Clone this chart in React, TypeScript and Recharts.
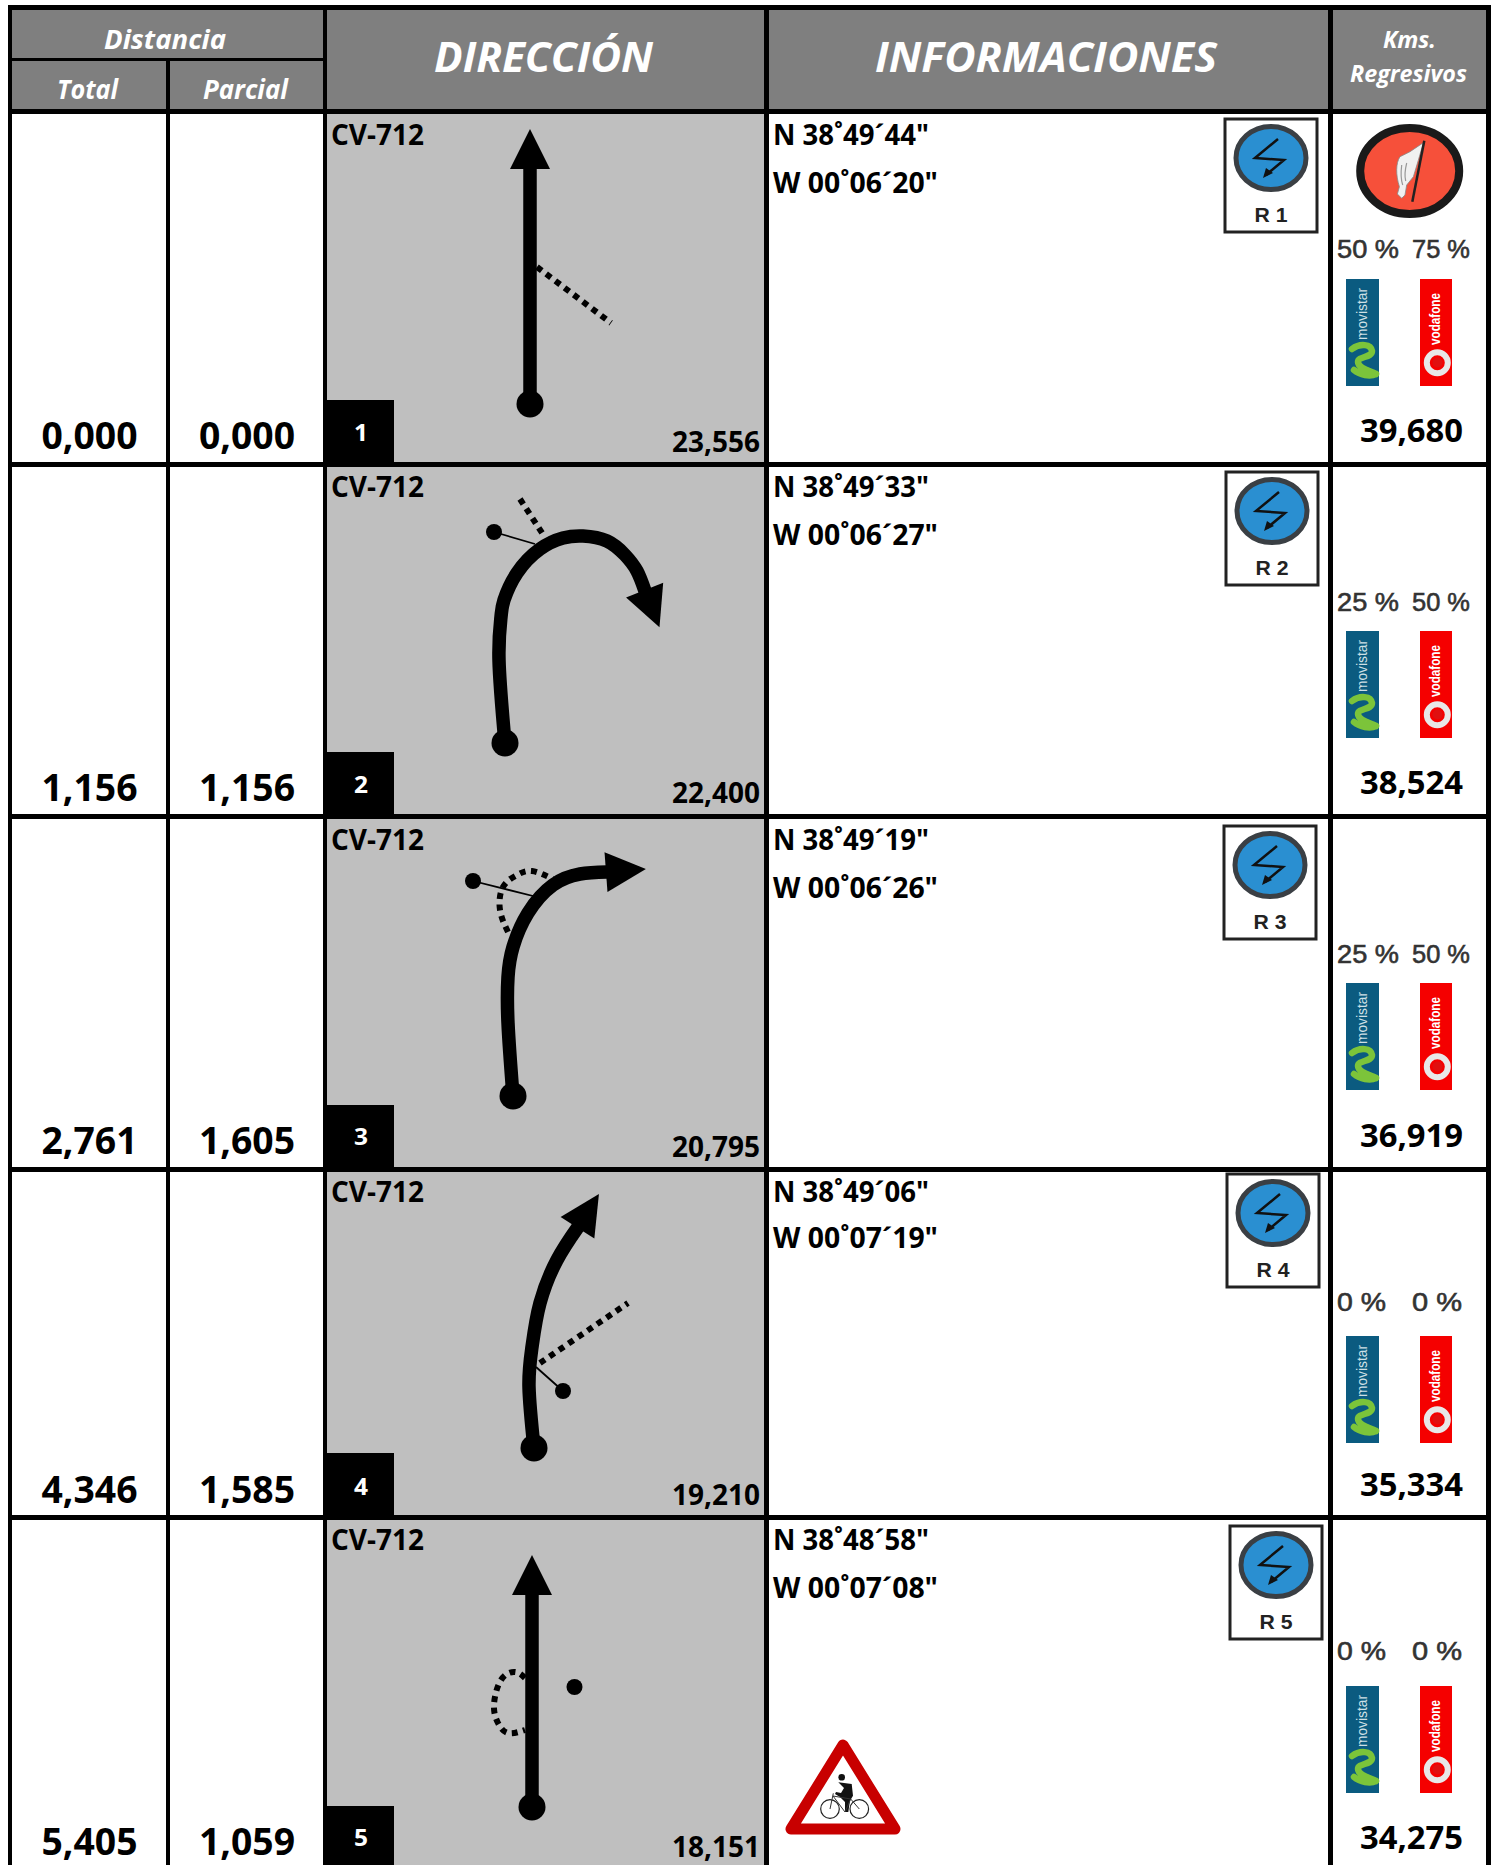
import React from 'react';
import { ComposedChart, XAxis, YAxis, Line, Scatter, ReferenceArea } from 'recharts';

const WIDTH = 1497;
const HEIGHT = 1865;

const totals = ['0,000', '1,156', '2,761', '4,346', '5,405'];
const partials = ['0,000', '1,156', '1,605', '1,585', '1,059'];
const stepNumbers = ['1', '2', '3', '4', '5'];
const remaining = ['23,556', '22,400', '20,795', '19,210', '18,151'];
const regressive = ['39,680', '38,524', '36,919', '35,334', '34,275'];
const roads = ['CV-712', 'CV-712', 'CV-712', 'CV-712', 'CV-712'];
const latitudes = ['N 38˚49´44"', 'N 38˚49´33"', 'N 38˚49´19"', 'N 38˚49´06"', 'N 38˚48´58"'];
const longitudes = ['W 00˚06´20"', 'W 00˚06´27"', 'W 00˚06´26"', 'W 00˚07´19"', 'W 00˚07´08"'];
const movistarCover = ['50 %', '25 %', '25 %', '0 %', '0 %'];
const vodafoneCover = ['75 %', '50 %', '50 %', '0 %', '0 %'];
const signNames = ['R 1', 'R 2', 'R 3', 'R 4', 'R 5'];

// road drawings, in page pixels because the axes run 1:1
const route1 = [{ x: 530, y: 404 }, { x: 530, y: 168 }];
const route2 = [
  { x: 505, y: 743 }, { x: 499, y: 660 }, { x: 501, y: 617 }, { x: 504, y: 600 }, { x: 517, y: 573 },
  { x: 540, y: 549 }, { x: 563, y: 538 }, { x: 583, y: 536 }, { x: 607, y: 541 }, { x: 625, y: 555 },
  { x: 637, y: 571 }, { x: 645, y: 591 },
];
const route3 = [
  { x: 513, y: 1096 }, { x: 508, y: 1023 }, { x: 508, y: 977 }, { x: 513, y: 947 }, { x: 528, y: 913 },
  { x: 553, y: 885 }, { x: 580, y: 874 }, { x: 607, y: 872 },
];
const route4 = [
  { x: 534, y: 1448 }, { x: 529, y: 1387 }, { x: 532, y: 1347 }, { x: 540, y: 1303 }, { x: 557, y: 1260 }, { x: 578, y: 1227 },
];
const route5 = [{ x: 532, y: 1807 }, { x: 532, y: 1594 }];
const routes = [route1, route2, route3, route4, route5];

const dashed1 = [{ x: 537, y: 267 }, { x: 611, y: 323 }];
const dashed2 = [{ x: 520, y: 499 }, { x: 544, y: 536 }];
const dashed3 = [
  { x: 508, y: 932 }, { x: 500, y: 910 }, { x: 503, y: 887 }, { x: 517, y: 875 }, { x: 532, y: 871 }, { x: 553, y: 879 },
];
const dashed4 = [{ x: 540, y: 1363 }, { x: 628, y: 1303 }];
const dashed5 = [
  { x: 525, y: 1678 }, { x: 515, y: 1672 }, { x: 501, y: 1680 }, { x: 494, y: 1705 }, { x: 498, y: 1723 },
  { x: 508, y: 1733 }, { x: 525, y: 1730 },
];
const dashedRoads = [dashed1, dashed2, dashed3, dashed4, dashed5];

const branch2 = [{ x: 494, y: 532 }, { x: 535, y: 544 }];
const branch3 = [{ x: 473, y: 881 }, { x: 537, y: 897 }];
const branch4 = [{ x: 563, y: 1391 }, { x: 536, y: 1367 }];
const branches = [branch2, branch3, branch4];
const markers = [
  { x: 494, y: 532 }, { x: 473, y: 881 }, { x: 563, y: 1391 }, { x: 574.5, y: 1687 },
];

// layout
const rowTops = [114, 467, 819, 1172, 1520];
const rowBottoms = [462, 814, 1167, 1515, 1865];
const numberBoxTops = [400, 752, 1105, 1453, 1806];
const bigBase = [449, 801, 1154, 1503, 1855];
const roadBase = [145, 497, 850, 1202, 1550];
const lonBase = [193, 545, 898, 1248, 1598];
const stepBase = [441, 793, 1145, 1495, 1846];
const remainBase = [452, 803, 1157, 1505, 1857];
const regBase = [442, 794, 1147, 1496, 1849];
const pctBase = [258, 611, 963, 1311, 1660];
const logoTops = [279, 631, 983, 1336, 1686];
const signCenters = [
  { x: 1271, y: 175 }, { x: 1272, y: 528 }, { x: 1270, y: 882 }, { x: 1273, y: 1230 }, { x: 1276, y: 1582 },
];

const SANS = '"Open Sans", sans-serif';
const ARIAL = '"Liberation Sans", Arial, sans-serif';

type Lbl = {
  x: number; y: number; text: string; size: number; w: number;
  color?: string; italic?: boolean; font?: string; weight?: number; halo?: number;
};

const labels: Lbl[] = [
  { x: 104, y: 49, text: 'Distancia', size: 27, w: 122, color: '#fff', italic: true },
  { x: 57, y: 99, text: 'Total', size: 26, w: 61, color: '#fff', italic: true },
  { x: 203, y: 99, text: 'Parcial', size: 26, w: 85, color: '#fff', italic: true },
  { x: 434, y: 72, text: 'DIRECCIÓN', size: 41, w: 219, color: '#fff', italic: true },
  { x: 875, y: 72, text: 'INFORMACIONES', size: 41, w: 342, color: '#fff', italic: true },
  { x: 1383, y: 48, text: 'Kms.', size: 23, w: 53, color: '#fff', italic: true },
  { x: 1350, y: 82, text: 'Regresivos', size: 23, w: 117, color: '#fff', italic: true },
];
totals.forEach((t, i) => labels.push({ x: 41.5, y: bigBase[i], text: t, size: 37, w: 96 }));
partials.forEach((t, i) => labels.push({ x: 199, y: bigBase[i], text: t, size: 37, w: 96 }));
roads.forEach((t, i) => labels.push({ x: 331, y: roadBase[i], text: t, size: 28, w: 93 }));
latitudes.forEach((t, i) => labels.push({ x: 773, y: roadBase[i], text: t, size: 28, w: 156 }));
longitudes.forEach((t, i) => labels.push({ x: 773, y: lonBase[i], text: t, size: 28, w: 165 }));
stepNumbers.forEach((t, i) => labels.push({ x: 354, y: stepBase[i], text: t, size: 23, w: 14, color: '#fff' }));
remaining.forEach((t, i) => labels.push({ x: 672, y: remainBase[i], text: t, size: 28, w: 88 }));
regressive.forEach((t, i) => labels.push({ x: 1360, y: regBase[i], text: t, size: 33, w: 103 }));
movistarCover.forEach((t, i) =>
  labels.push({ x: 1337, y: pctBase[i], text: t, size: 26, w: t.length > 3 ? 62 : 49, color: '#333', font: ARIAL, weight: 400, halo: 0.6 }),
);
vodafoneCover.forEach((t, i) =>
  labels.push({ x: 1412, y: pctBase[i], text: t, size: 26, w: t.length > 3 ? 58 : 50, color: '#333', font: ARIAL, weight: 400, halo: 0.6 }),
);

const TextMark = (props: any) => {
  const d: Lbl = props.payload;
  return (
    <text
      x={props.cx}
      y={props.cy}
      fontSize={d.size}
      fontFamily={d.font || SANS}
      fontWeight={d.weight || 700}
      fontStyle={d.italic ? 'italic' : 'normal'}
      fill={d.color || '#000'}
      stroke={d.halo ? d.color : 'none'}
      strokeWidth={d.halo || 0}
      textLength={d.w}
      lengthAdjust="spacingAndGlyphs"
    >
      {d.text}
    </text>
  );
};

const MarkerDot = (props: any) => <circle cx={props.cx} cy={props.cy} r={8} fill="#000" />;

// start circle and arrow head of a road, taken from the first and last points
const routeDot = (route: { x: number; y: number }[]) => (p: any) => {
  const last = route.length - 1;
  if (p.index === 0) return <circle key="start" cx={p.cx} cy={p.cy} r={13.5} fill="#000" />;
  if (p.index === last) {
    const a = route[last];
    const b = route[last - 1];
    const deg = (Math.atan2(a.y - b.y, a.x - b.x) * 180) / Math.PI;
    return (
      <polygon
        key="head"
        points="-1,-20 39,0 -1,20"
        fill="#000"
        transform={`translate(${p.cx} ${p.cy}) rotate(${deg})`}
      />
    );
  }
  return <g key={`p${p.index}`} />;
};

const RoadSign = (props: any) => {
  const { cx, cy, payload } = props;
  return (
    <g transform={`translate(${cx} ${cy})`}>
      <rect x={-46} y={-56} width={92} height={113} fill="#fff" stroke="#222" strokeWidth={3} />
      <ellipse cx={0} cy={-17} rx={35} ry={31.5} fill="#2a8fd1" stroke="#3a3f44" strokeWidth={5} />
      <path d="M7 -36 L-16 -17 L13 -15 L-5 0" fill="none" stroke="#111" strokeWidth={2.5} />
      <polygon points="-8,3 -5,-7 2,-2" fill="#111" />
      <text
        x={0}
        y={47}
        textAnchor="middle"
        fontSize={21}
        fontWeight={700}
        fontFamily={ARIAL}
        fill="#222"
        textLength={33}
        lengthAdjust="spacingAndGlyphs"
      >
        {payload.name}
      </text>
    </g>
  );
};

const FlagSign = (props: any) => (
  <g transform={`translate(${props.cx} ${props.cy})`}>
    <ellipse rx={49.5} ry={43} fill="#f6503a" stroke="#1a1a1a" strokeWidth={8} />
    <path
      d="M13.7 -28.3 L0.3 -19.3 L-9.7 -14.3 C-14 -8 -14 4 -10.3 15.7 L-12.3 23 L-8 27.3 L-4.7 24 L-3 14 L3.7 5.7 L8.7 -11 Z"
      fill="#f1f1f1"
      stroke="#888"
      strokeWidth={0.8}
    />
    <path d="M-8 -6 C-9 2 -9 8 -7 14 M-3 -8 C-5 0 -5 6 -4 10" fill="none" stroke="#999" strokeWidth={1.2} />
    <line x1={14.6} y1={-30.3} x2={2.6} y2={30.7} stroke="#222" strokeWidth={2.5} />
  </g>
);

const MovistarLogo = (props: any) => (
  <g transform={`translate(${props.cx} ${props.cy})`}>
    <rect width={33} height={107} fill="#0b5b80" />
    <text
      transform="translate(21 61) rotate(-90)"
      fontSize={15}
      fontFamily={ARIAL}
      fill="#cfe0e6"
      textLength={52}
      lengthAdjust="spacingAndGlyphs"
    >
      movistar
    </text>
    <path
      d="M6 70 C14 64 25 65 26 72 C26 79 12 77 12 83 C12 89 24 92 30 95 M8 91 C14 96 24 98 30 95"
      fill="none"
      stroke="#7cc43a"
      strokeWidth={6.5}
      strokeLinecap="round"
    />
  </g>
);

const VodafoneLogo = (props: any) => (
  <g transform={`translate(${props.cx} ${props.cy})`}>
    <rect width={32} height={107} fill="#f50000" />
    <text
      transform="translate(20 66) rotate(-90)"
      fontSize={15}
      fontFamily={ARIAL}
      fontWeight={700}
      fill="#fff"
      textLength={52}
      lengthAdjust="spacingAndGlyphs"
    >
      vodafone
    </text>
    <circle cx={17.3} cy={83.7} r={10.5} fill="none" stroke="#e8e8e8" strokeWidth={6} />
    <circle cx={17.5} cy={83.5} r={5} fill="#e01010" />
  </g>
);

const CycleSign = (props: any) => (
  <g transform={`translate(${props.cx} ${props.cy})`}>
    <polygon points="0,-44 -52,40 52,40" fill="#fff" stroke="#c80000" strokeWidth={11} strokeLinejoin="round" />
    <circle cx={-13} cy={20} r={9.3} fill="none" stroke="#222" strokeWidth={1.2} />
    <circle cx={16.3} cy={20} r={9.3} fill="none" stroke="#222" strokeWidth={1.2} />
    <circle cx={-1.3} cy={-11.7} r={3.3} fill="#111" />
    <path
      d="M-4.7 -6.7 L8.7 -5 L10 6.7 L7 11.7 L5.3 23 L2 23 L2 13 L-3 8 L-8 5 L-7 3 L-2 4 L1 -1 Z"
      fill="#111"
    />
    <path
      d="M-13 20 L-9.7 4.3 M-10 7 L7.7 10 L16.3 20 M-10 7 L2 23 L7.7 10"
      fill="none"
      stroke="#333"
      strokeWidth={1}
    />
  </g>
);

const signData = signCenters.map((c, i) => ({ ...c, name: signNames[i] }));
const flagData = [{ x: 1409.7, y: 171 }];
const movistarData = logoTops.map((y) => ({ x: 1346, y }));
const vodafoneData = logoTops.map((y) => ({ x: 1420, y }));
const cycleData = [{ x: 843, y: 1789 }];

const HEADER = '#7f7f7f';
const ROAD_BG = '#bfbfbf';

const App: React.FC = () => {
  const cells: { x1: number; x2: number; y1: number; y2: number; fill: string }[] = [
    { x1: 8, x2: 1491, y1: 5, y2: HEIGHT, fill: '#000' },
    { x1: 12, x2: 323, y1: 10, y2: 58, fill: HEADER },
    { x1: 12, x2: 166, y1: 61, y2: 109, fill: HEADER },
    { x1: 170, x2: 323, y1: 61, y2: 109, fill: HEADER },
    { x1: 327, x2: 764, y1: 10, y2: 109, fill: HEADER },
    { x1: 769, x2: 1328, y1: 10, y2: 109, fill: HEADER },
    { x1: 1333, x2: 1486, y1: 10, y2: 109, fill: HEADER },
  ];
  rowTops.forEach((top, i) => {
    const bottom = rowBottoms[i];
    cells.push({ x1: 12, x2: 166, y1: top, y2: bottom, fill: '#fff' });
    cells.push({ x1: 170, x2: 323, y1: top, y2: bottom, fill: '#fff' });
    cells.push({ x1: 327, x2: 764, y1: top, y2: bottom, fill: ROAD_BG });
    cells.push({ x1: 769, x2: 1328, y1: top, y2: bottom, fill: '#fff' });
    cells.push({ x1: 1333, x2: 1486, y1: top, y2: bottom, fill: '#fff' });
    cells.push({ x1: 327, x2: 394, y1: numberBoxTops[i], y2: bottom, fill: '#000' });
  });

  return (
    <div style={{ position: 'absolute', left: 0, top: 0, width: WIDTH, height: HEIGHT }}>
      <ComposedChart width={WIDTH} height={HEIGHT} margin={{ top: 0, right: 0, bottom: 0, left: 0 }}>
        <XAxis type="number" dataKey="x" domain={[0, WIDTH]} hide />
        <YAxis type="number" dataKey="y" domain={[0, HEIGHT]} reversed hide />
        {cells.map((c, i) => (
          <ReferenceArea key={i} x1={c.x1} x2={c.x2} y1={c.y1} y2={c.y2} fill={c.fill} fillOpacity={1} stroke="none" />
        ))}
        {dashedRoads.map((d, i) => (
          <Line
            key={`dash-${i}`}
            data={d}
            dataKey="y"
            type="natural"
            stroke="#000"
            strokeWidth={6}
            strokeDasharray="6 5.5"
            dot={false}
            activeDot={false}
            isAnimationActive={false}
          />
        ))}
        {branches.map((d, i) => (
          <Line
            key={`branch-${i}`}
            data={d}
            dataKey="y"
            type="linear"
            stroke="#000"
            strokeWidth={1.8}
            dot={false}
            activeDot={false}
            isAnimationActive={false}
          />
        ))}
        {routes.map((d, i) => (
          <Line
            key={`route-${i}`}
            data={d}
            dataKey="y"
            type="natural"
            stroke="#000"
            strokeWidth={13.5}
            dot={routeDot(d)}
            activeDot={false}
            isAnimationActive={false}
          />
        ))}
        <Scatter data={markers} shape={MarkerDot} isAnimationActive={false} />
        <Scatter data={signData} shape={RoadSign} isAnimationActive={false} />
        <Scatter data={flagData} shape={FlagSign} isAnimationActive={false} />
        <Scatter data={movistarData} shape={MovistarLogo} isAnimationActive={false} />
        <Scatter data={vodafoneData} shape={VodafoneLogo} isAnimationActive={false} />
        <Scatter data={cycleData} shape={CycleSign} isAnimationActive={false} />
        <Scatter data={labels} shape={TextMark} isAnimationActive={false} />
      </ComposedChart>
    </div>
  );
};

export default App;
